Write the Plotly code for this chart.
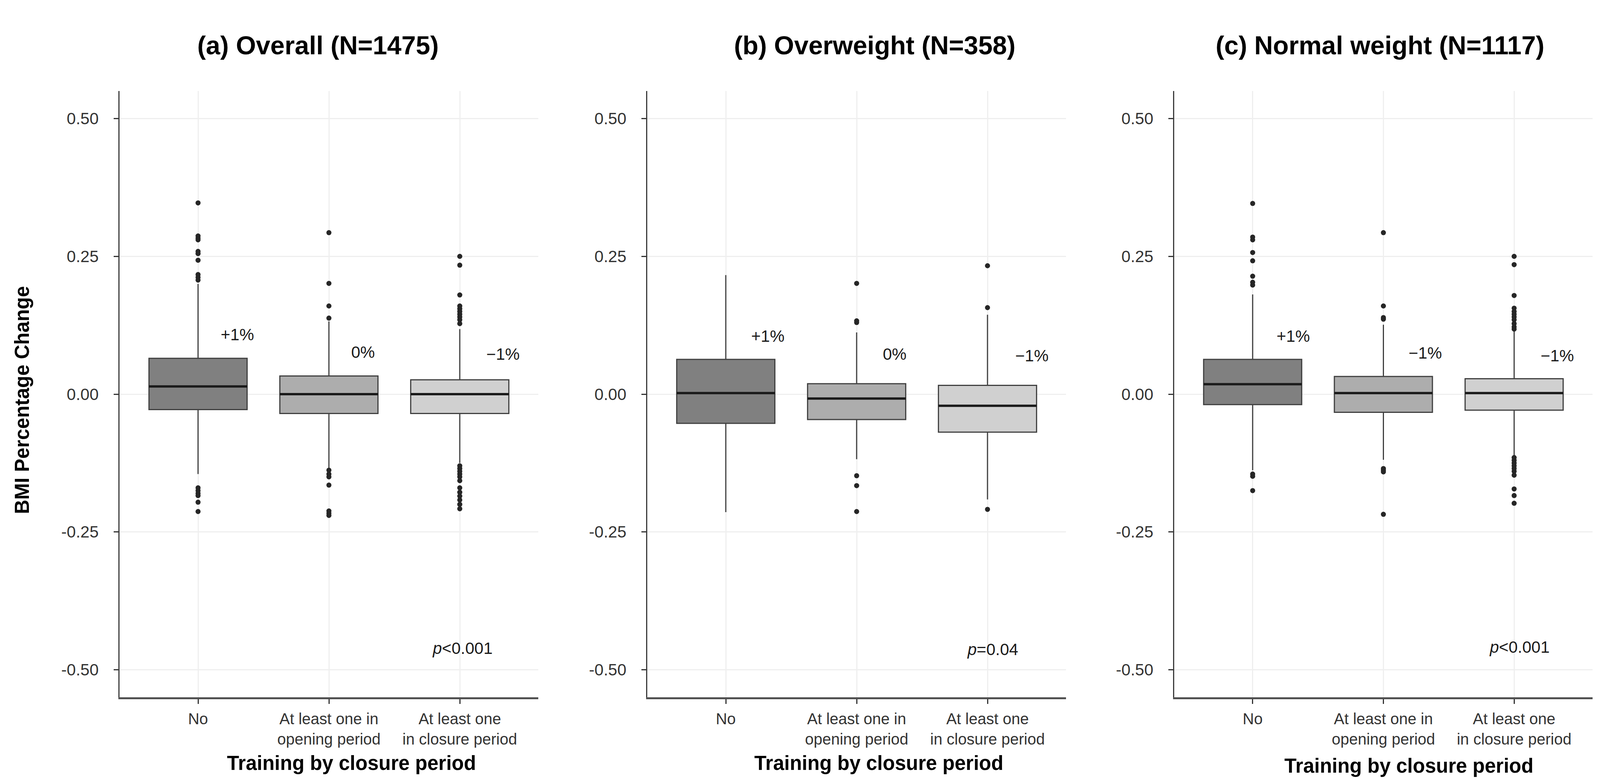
import plotly.graph_objects as go

# ---------------- data ----------------
categories = ["No", "At least one in<br>opening period", "At least one<br>in closure period"]
panel_titles = ["(a) Overall (N=1475)", "(b) Overweight (N=358)", "(c) Normal weight (N=1117)"]
change_labels = [["+1%", "0%", "\u22121%"],
                 ["+1%", "0%", "\u22121%"],
                 ["+1%", "\u22121%", "\u22121%"]]
p_labels = ["<i>p</i>&lt;0.001", "<i>p</i>=0.04", "<i>p</i>&lt;0.001"]
y_tickvals = [-0.5, -0.25, 0.0, 0.25, 0.5]
y_ticktext = ["-0.50", "-0.25", "0.00", "0.25", "0.50"]

# (a) Overall
q1_a = [-0.028, -0.035, -0.035]
med_a = [0.014, 0.000, 0.000]
q3_a = [0.065, 0.033, 0.026]
lo_a = [-0.145, -0.135, -0.125]
hi_a = [0.200, 0.132, 0.118]
out_a = [[0.347, 0.287, 0.283, 0.280, 0.259, 0.255, 0.243, 0.217, 0.212, 0.207,
          -0.170, -0.175, -0.180, -0.184, -0.196, -0.213],
         [0.293, 0.201, 0.160, 0.138, -0.138, -0.145, -0.150, -0.165, -0.212, -0.216, -0.220],
         [0.250, 0.234, 0.180, 0.160, 0.155, 0.150, 0.145, 0.140, 0.135, 0.128,
          -0.130, -0.135, -0.140, -0.145, -0.150, -0.157, -0.170, -0.178, -0.185, -0.192, -0.200, -0.208]]

# (b) Overweight
q1_b = [-0.053, -0.046, -0.069]
med_b = [0.002, -0.008, -0.021]
q3_b = [0.063, 0.019, 0.016]
lo_b = [-0.214, -0.118, -0.191]
hi_b = [0.216, 0.112, 0.144]
out_b = [[],
         [0.201, 0.133, 0.130, -0.148, -0.166, -0.213],
         [0.233, 0.157, -0.209]]

# (c) Normal weight
q1_c = [-0.019, -0.033, -0.029]
med_c = [0.018, 0.002, 0.002]
q3_c = [0.063, 0.032, 0.028]
lo_c = [-0.138, -0.119, -0.112]
hi_c = [0.181, 0.126, 0.115]
out_c = [[0.346, 0.285, 0.280, 0.257, 0.242, 0.214, 0.203, 0.198, -0.145, -0.149, -0.175],
         [0.293, 0.160, 0.139, 0.136, -0.135, -0.138, -0.141, -0.218],
         [0.250, 0.235, 0.179, 0.156, 0.150, 0.145, 0.140, 0.135, 0.128, 0.122, 0.118,
          -0.115, -0.120, -0.125, -0.130, -0.135, -0.140, -0.147, -0.172, -0.184, -0.198]]

panels = [(q1_a, med_a, q3_a, lo_a, hi_a, out_a),
          (q1_b, med_b, q3_b, lo_b, hi_b, out_b),
          (q1_c, med_c, q3_c, lo_c, hi_c, out_c)]

# ---------------- layout / style ----------------
W, H = 4098, 2007
FONT = "Liberation Sans, Arial, Helvetica, sans-serif"
fills = ["#808080", "#adadad", "#d0d0d0"]
box_w = 0.75
x_domains = [[298 / W, 1370 / W], [1649 / W, 2721 / W], [2998 / W, 4069 / W]]
y_domain = [1 - 1777 / H, 1 - 225 / H]
title_x = [806 / W, 2231 / W, 3525 / W]
title_y = 1 - 108 / H
xtitle_x = [892 / W, 2242 / W, 3599 / W]
xtitle_y = [1 - 1945 / H, 1 - 1945 / H, 1 - 1952 / H]
change_pos = [[(0.30, 0.108), (1.26, 0.076), (2.33, 0.073)],
              [(0.32, 0.105), (1.29, 0.073), (2.34, 0.070)],
              [(0.31, 0.105), (1.32, 0.075), (2.33, 0.070)]]
p_pos = [(2.02, -0.461), (2.04, -0.463), (2.04, -0.459)]

fig = go.Figure()
xa = ["x", "x2", "x3"]
ya = ["y", "y2", "y3"]

for p, (q1, med, q3, lo, hi, out) in enumerate(panels):
    for i, cat in enumerate(categories):
        fig.add_trace(go.Box(
            x=[cat], q1=[q1[i]], median=[med[i]], q3=[q3[i]],
            lowerfence=[lo[i]], upperfence=[hi[i]],
            fillcolor=fills[i], line=dict(color="#404040", width=3),
            width=box_w, whiskerwidth=0, boxpoints=False,
            xaxis=xa[p], yaxis=ya[p], showlegend=False, hoverinfo="skip"))
    xs, ys = [], []
    for i, cat in enumerate(categories):
        xs += [cat] * len(out[i])
        ys += out[i]
    fig.add_trace(go.Scatter(
        x=xs, y=ys, mode="markers",
        marker=dict(color="#262626", size=13, line=dict(width=0)),
        xaxis=xa[p], yaxis=ya[p], showlegend=False, hoverinfo="skip"))
    for i in range(len(categories)):
        fig.add_shape(type="line", xref=xa[p], yref=ya[p],
                      x0=i - box_w / 2, x1=i + box_w / 2, y0=med[i], y1=med[i],
                      line=dict(color="#1a1a1a", width=6))

layout = dict(
    width=W, height=H,
    margin=dict(l=0, r=0, t=0, b=0),
    paper_bgcolor="white", plot_bgcolor="white",
    font=dict(family=FONT, color="#333333"),
    showlegend=False,
)
for p in range(3):
    suffix = "" if p == 0 else str(p + 1)
    layout["xaxis" + suffix] = dict(
        domain=x_domains[p], anchor=ya[p], type="category",
        categoryorder="array", categoryarray=categories,
        range=[-0.6, 2.6], automargin=False,
        showline=True, linecolor="#505050", linewidth=5,
        ticks="outside", ticklen=12, tickwidth=3, tickcolor="#333333",
        showgrid=True, gridcolor="#efefef", gridwidth=3,
        tickfont=dict(size=40, color="#333333", family=FONT),
        ticklabelstandoff=4, zeroline=False, fixedrange=True)
    layout["yaxis" + suffix] = dict(
        domain=y_domain, anchor=xa[p], range=[-0.55, 0.55], automargin=False,
        tickvals=y_tickvals, ticktext=y_ticktext,
        showline=True, linecolor="#3c3c3c", linewidth=3,
        ticks="outside", ticklen=12, tickwidth=3, tickcolor="#333333",
        showgrid=True, gridcolor="#efefef", gridwidth=3,
        tickfont=dict(size=42, color="#333333", family=FONT),
        ticklabelstandoff=30, zeroline=False, fixedrange=True)
fig.update_layout(**layout)

ann = []
for p in range(3):
    ann.append(dict(text="<b>" + panel_titles[p] + "</b>", xref="paper", yref="paper",
                    x=title_x[p], y=title_y, xanchor="center", yanchor="middle",
                    showarrow=False, font=dict(size=66, color="black", family=FONT)))
    ann.append(dict(text="<b>Training by closure period</b>", xref="paper", yref="paper",
                    x=xtitle_x[p], y=xtitle_y[p], xanchor="center", yanchor="middle",
                    showarrow=False, font=dict(size=51, color="black", family=FONT)))
    for i in range(3):
        ann.append(dict(text=change_labels[p][i], xref=xa[p], yref=ya[p],
                        x=change_pos[p][i][0], y=change_pos[p][i][1],
                        xanchor="center", yanchor="middle", showarrow=False,
                        font=dict(size=42, color="#1a1a1a", family=FONT)))
    ann.append(dict(text=p_labels[p], xref=xa[p], yref=ya[p],
                    x=p_pos[p][0], y=p_pos[p][1], xanchor="center", yanchor="middle",
                    showarrow=False, font=dict(size=42, color="#1a1a1a", family=FONT)))
ann.append(dict(text="<b>BMI Percentage Change</b>", xref="paper", yref="paper",
                x=48 / W, y=1 - 1016 / H, xanchor="center", yanchor="middle",
                textangle=-90, showarrow=False, font=dict(size=51, color="black", family=FONT)))
fig.update_layout(annotations=ann)

fig.write_html("out.html")
